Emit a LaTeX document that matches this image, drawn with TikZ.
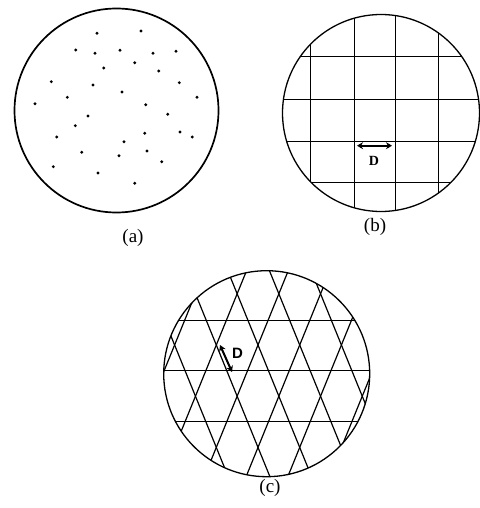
\documentclass[tikz,border=0pt]{standalone}
\usepackage{fontspec}
\setmainfont{Liberation Serif}
\newfontfamily\dsans{Liberation Sans}
\usetikzlibrary{arrows.meta}
\begin{document}
\begin{tikzpicture}[x=1pt,y=-1pt,
  rim/.style={line width=1.3pt},
  grid/.style={line width=1.2pt},
  dotmark/.style={fill=black},
  caption/.style={font=\fontsize{19}{21}\selectfont, inner sep=0pt},
  dimarrow/.style={line width=2pt, {Stealth[length=6pt,width=7pt]}-{Stealth[length=6pt,width=7pt]}}]
\useasboundingbox (0,0) rectangle (479,508);
% ---------- (a) ----------
\draw[line width=1.7pt] (116.5,110.5) circle (102);
\foreach \x/\y in {97/33.3,141/31,75.7/50,95/53.3,120/50.3,153/53.3,176/51.3,134.7/62.7,
  103.7/68,158.7/71,51.3/81.7,93/85,179.3/82.7,122/92,67.3/97.3,197/97.3,35/103.7,
  145.7/104.7,88/116,167.7/114.3,75.3/125.7,144.7/133.3,180/132,192.3/137,56.7/137,
  124/141.7,81.7/152.3,147/151,119/155.7,161.7/161.7,53.3/166.7,98/173,134.7/183.3}
  \fill[dotmark] (\x,\y) circle (1.6);
\node[caption] (capa) at (133,238) {(a)};
% ---------- (b) ----------
\begin{scope}
  \clip (381,113) circle (98.5);
  \foreach \x in {310.5,354.5,395.5,438.5}
    \draw[grid] (\x,0) -- (\x,230);
  \foreach \y in {56.5,99.5,141.5,182.5}
    \draw[grid] (270,\y) -- (490,\y);
\end{scope}
\draw[rim] (381,113) circle (98.5);
\coordinate (bl) at (357,145.7);
\coordinate (br) at (392,145.7);
\draw[dimarrow] (bl) -- (br);
\node[font=\bfseries\fontsize{14}{16}\selectfont, inner sep=0pt] (db) at (374,161) {D};
\node[caption] (capb) at (375,227) {(b)};
% ---------- (c) ----------
\begin{scope}
  \clip (266.7,373.7) circle (103);
  \foreach \y in {320.5,370.5,421.5}
    \draw[grid] (150,\y) -- (390,\y);
  \foreach \k in {-6,...,6}{
    \draw[grid] ({216.3+41.7*\k-20.85*3},{345-51.2*3}) -- ({216.3+41.7*\k+20.85*4},{345+51.2*4});
    \draw[grid] ({216.3+41.7*\k+20.85*3},{345-51.2*3}) -- ({216.3+41.7*\k-20.85*4},{345+51.2*4});
  }
\end{scope}
\draw[rim] (266.7,373.7) circle (103);
\coordinate (ct) at (220,345);
\coordinate (cb) at (232,372);
\draw[dimarrow] (ct) -- (cb);
\node[font=\dsans\bfseries\fontsize{15}{17}\selectfont, inner sep=0pt] (dc) at (237.5,353.5) {D};
\node[caption] (capc) at (270,487.5) {(c)};
\end{tikzpicture}
\end{document}
